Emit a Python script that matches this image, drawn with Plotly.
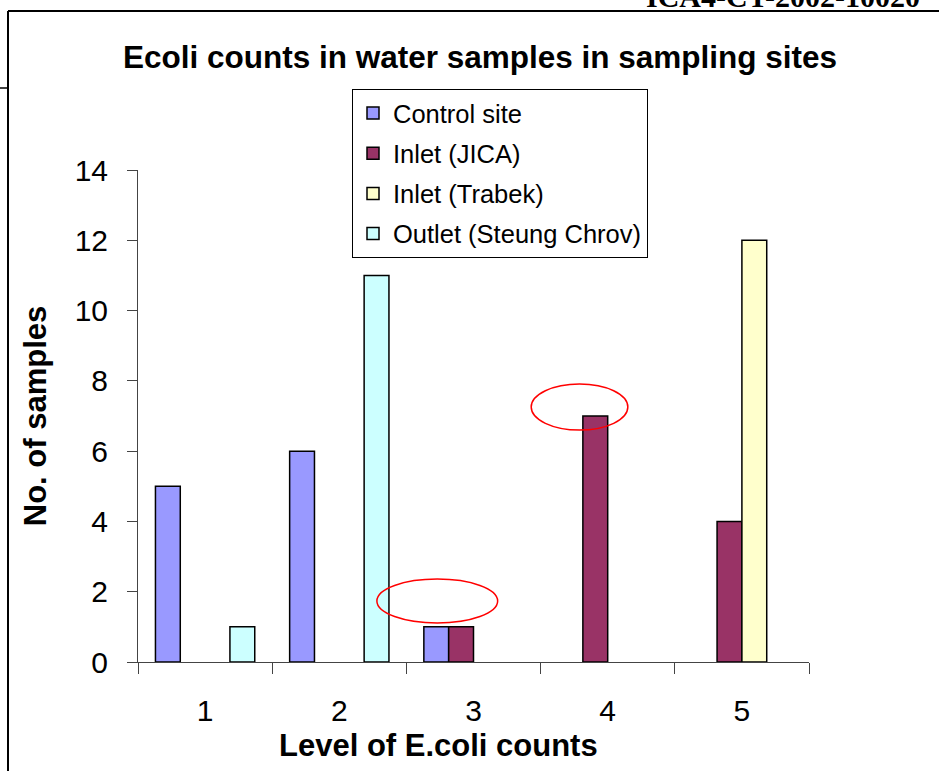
import plotly.graph_objects as go

levels = ["1", "2", "3", "4", "5"]
control_site = [5, 6, 1, 0, 0]
inlet_jica = [0, 0, 1, 7, 4]
inlet_trabek = [0, 0, 0, 0, 12]
outlet_steung = [1, 11, 0, 0, 0]
series_names = ["Control site", "Inlet (JICA)", "Inlet (Trabek)", "Outlet (Steung Chrov)"]
series_colors = ["#9999FF", "#993366", "#FFFFCC", "#CCFFFF"]
y_ticks = [0, 2, 4, 6, 8, 10, 12, 14]

W, H = 939, 771
L, R, T, B = 138, 130, 170, 109
pw, ph = W - L - R, H - T - B

def px(x):
    return (x - L) / pw

def py(y):
    return (H - B - y) / ph

fig = go.Figure()
for i, (name, vals, col) in enumerate(zip(series_names,
                                          [control_site, inlet_jica, inlet_trabek, outlet_steung],
                                          series_colors)):
    # zero counts draw no bar (no outline sliver on the axis)
    shown = [v if v else None for v in vals]
    fig.add_trace(go.Bar(x=levels, y=shown, name=name, legendgroup=f"g{i}",
                         marker=dict(color=col, line=dict(color="black", width=1.5))))

font = "Liberation Sans, Arial, sans-serif"
fig.update_layout(
    width=W, height=H,
    margin=dict(l=L, r=R, t=T, b=B, autoexpand=False),
    paper_bgcolor="white", plot_bgcolor="white",
    barmode="group", bargap=0.26, bargroupgap=0,
    font=dict(family=font, color="black"),
    title=dict(text="<b>Ecoli counts in water samples in sampling sites</b>",
               x=480 / W, xanchor="center", y=1 - 57 / H, yanchor="middle",
               font=dict(size=31.5, family=font)),
    legend=dict(x=px(352), y=py(89), xanchor="left", yanchor="top",
                bordercolor="black", borderwidth=1, bgcolor="white",
                font=dict(size=25.5, family=font), tracegroupgap=4,
                itemwidth=30),
    xaxis=dict(type="category", showline=True, linecolor="#444", linewidth=1,
               ticks="outside", tickson="boundaries", ticklen=11, tickcolor="#444",
               tickfont=dict(size=30), ticklabelstandoff=22,
               showgrid=False, zeroline=False),
    yaxis=dict(range=[0, 14], tickvals=y_ticks, showline=True, linecolor="#444", linewidth=1,
               ticks="outside", ticklen=10, tickcolor="#444", tickfont=dict(size=30),
               ticklabelstandoff=13,
               title=dict(text="<b>No. of samples</b>", font=dict(size=31), standoff=18),
               showgrid=False, zeroline=False),
)

# x axis title (sits left of the plot centre in the original)
fig.add_annotation(text="<b>Level of E.coli counts</b>", xref="paper", yref="paper",
                   x=px(438), y=py(745), xanchor="center", yanchor="middle", showarrow=False,
                   font=dict(size=31, family=font, color="black"))

# red ellipses highlighting
fig.add_shape(type="circle", xref="x", yref="y", x0=1.28, x1=2.18, y0=1.11, y1=2.36,
              line=dict(color="red", width=1.5))
fig.add_shape(type="circle", xref="x", yref="y", x0=2.43, x1=3.15, y0=6.60, y1=7.91,
              line=dict(color="red", width=1.5))

# page frame decorations
fig.add_shape(type="line", xref="paper", yref="paper", x0=px(8), x1=px(945), y0=py(11), y1=py(11),
              line=dict(color="black", width=2))
fig.add_shape(type="line", xref="paper", yref="paper", x0=px(8), x1=px(8), y0=py(11), y1=py(775),
              line=dict(color="black", width=2))
fig.add_shape(type="line", xref="paper", yref="paper", x0=px(-5), x1=px(8), y0=py(88), y1=py(88),
              line=dict(color="black", width=1.5))
fig.add_annotation(text="<b>ICA4-CT-2002-10020</b>", xref="paper", yref="paper",
                   x=px(922), y=py(15), xanchor="right", yanchor="bottom", showarrow=False,
                   font=dict(family="Liberation Serif, Times New Roman, serif", size=30, color="black"))

fig.write_html("out.html")
